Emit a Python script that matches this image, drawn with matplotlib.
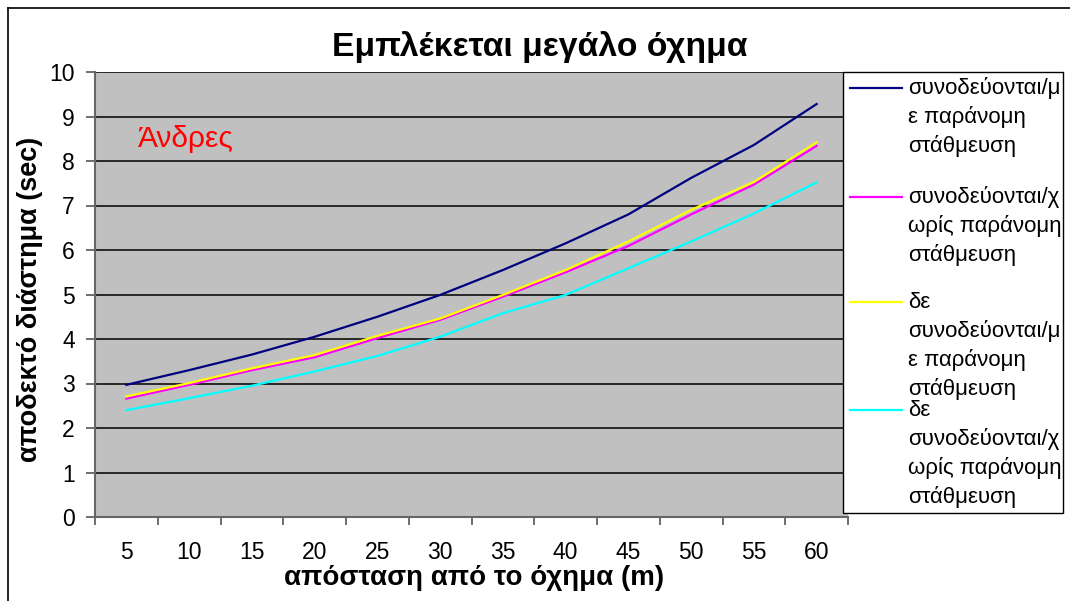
import matplotlib
matplotlib.use('Agg')
import matplotlib.pyplot as plt
from matplotlib.lines import Line2D
from matplotlib.patches import Rectangle

plt.rcParams['font.family'] = ['Liberation Sans', 'DejaVu Sans']

distances = ['5', '10', '15', '20', '25', '30', '35', '40', '45', '50', '55', '60']
with_illegal = [2.97, 3.30, 3.65, 4.05, 4.50, 4.99, 5.55, 6.15, 6.80, 7.62, 8.36, 9.28]
without_illegal = [2.66, 2.97, 3.30, 3.59, 4.02, 4.43, 4.95, 5.50, 6.09, 6.80, 7.47, 8.34]
alone_illegal = [2.71, 3.01, 3.34, 3.64, 4.07, 4.46, 4.99, 5.55, 6.19, 6.90, 7.53, 8.42]
alone_legal = [2.40, 2.67, 2.95, 3.27, 3.62, 4.05, 4.58, 4.99, 5.59, 6.19, 6.82, 7.52]

labels = ['συνοδεύονται/μ\nε παράνομη\nστάθμευση',
          'συνοδεύονται/χ\nωρίς παράνομη\nστάθμευση',
          'δε\nσυνοδεύονται/μ\nε παράνομη\nστάθμευση',
          'δε\nσυνοδεύονται/χ\nωρίς παράνομη\nστάθμευση']
colors = ['#000080', '#ff00ff', '#ffff00', '#00ffff']
series = [with_illegal, without_illegal, alone_illegal, alone_legal]

W, H = 1070, 601
fig = plt.figure(figsize=(W / 100, H / 100), dpi=100)

# outer chart border (cropped on right/bottom)
fig.add_artist(Line2D([8 / W, 8 / W], [0, 1 - 8 / H], color='black', lw=1.2))
fig.add_artist(Line2D([8 / W, 1], [1 - 8 / H, 1 - 8 / H], color='black', lw=1.2))

ax = fig.add_axes([95 / W, 1 - 517 / H, 753 / W, 445 / H])
ax.set_facecolor('#c0c0c0')
x = list(range(len(distances)))
for vals, c in zip(series, colors):
    ax.plot(x, vals, color=c, lw=1.6)

ax.set_xlim(-0.5, len(distances) - 0.5)
ax.set_ylim(0, 10)
ax.set_yticks(range(0, 11))
ax.yaxis.grid(True, color='black', lw=1.1)
ax.set_axisbelow(True)
ax.set_xticks(x)
ax.set_xticklabels(distances)
ax.set_xticks([i - 0.5 for i in range(len(distances) + 1)], minor=True)
ax.tick_params(axis='x', which='major', length=0, labelsize=16.5, pad=17)
ax.tick_params(axis='x', which='minor', length=6, color='#555555', width=1.2)
ax.tick_params(axis='y', length=6.5, labelsize=16.5, pad=8, color='#555555', width=1.2)
for s in ['top', 'right']:
    ax.spines[s].set_visible(False)
for s in ['left', 'bottom']:
    ax.spines[s].set_color('#666666')
    ax.spines[s].set_linewidth(1.5)

ax.set_xlabel('απόσταση από το όχημα (m)', fontsize=20, fontweight='bold')
ax.xaxis.set_label_coords((474 - 95) / 753, (517 - 565) / 445)
ax.set_ylabel('αποδεκτό διάστημα (sec)', fontsize=19.5, fontweight='bold')
ax.yaxis.set_label_coords((43 - 95) / 753, 0.49)
fig.text(540 / W, 1 - 47 / H, 'Εμπλέκεται μεγάλο όχημα', fontsize=24.3,
         fontweight='bold', ha='center', va='center')
fig.text(138 / W, 1 - 139 / H, 'Άνδρες', fontsize=21.5, color='red', va='center')

# legend box
fig.add_artist(Rectangle((843 / W, 1 - 513 / H), 220 / W, 441 / H,
                         facecolor='white', edgecolor='black', lw=1.0,
                         transform=fig.transFigure))
first_line = [88, 197, 302, 410]
for lab, c, y0 in zip(labels, colors, first_line):
    fig.add_artist(Line2D([850 / W, 902 / W], [1 - y0 / H, 1 - y0 / H],
                          color=c, lw=1.6))
    for k, line in enumerate(lab.split('\n')):
        fig.text(908 / W, 1 - (y0 + k * 29) / H, line, fontsize=16, va='center')

fig.savefig('out.png', dpi=100)
